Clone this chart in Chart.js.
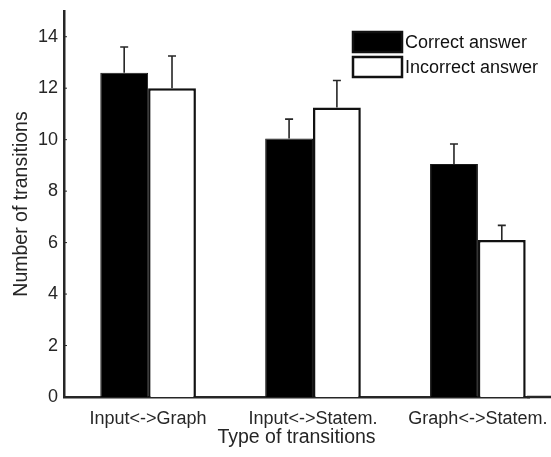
<!DOCTYPE html>
<html lang="en">
<head>
<meta charset="UTF-8" />
<title>Type of transitions</title>
<script src="https://cdn.jsdelivr.net/npm/chart.js@4"></script>
<style>
  html, body { margin: 0; padding: 0; background: #fff; overflow: hidden; }
  canvas { display: block; }
</style>
</head>
<body>
<canvas id="chart" width="551" height="457"></canvas>
<script>
const categories = ["Input<->Graph", "Input<->Statem.", "Graph<->Statem."];
const correct = [12.6, 10.05, 9.05];
const correctErr = [1.0, 0.75, 0.78];
const incorrect = [12.0, 11.25, 6.1];
const incorrectErr = [1.25, 1.05, 0.57];
const yTicks = [0, 2, 4, 6, 8, 10, 12, 14];
const seriesNames = ["Correct answer", "Incorrect answer"];

const FONT = "'Liberation Sans', Arial, sans-serif";
const INK = "#262626";

// upward-only error bars with a small cap, plus the axis stub and legend
const errorBars = {
  id: "errorBars",
  afterDatasetsDraw(chart) {
    const { ctx, scales: { y } } = chart;
    const errs = [correctErr, incorrectErr];
    const vals = [correct, incorrect];
    ctx.save();
    ctx.strokeStyle = INK;
    ctx.lineWidth = 1.6;
    chart.data.datasets.forEach((ds, di) => {
      chart.getDatasetMeta(di).data.forEach((bar, i) => {
        const top = y.getPixelForValue(vals[di][i] + errs[di][i]);
        ctx.beginPath();
        ctx.moveTo(bar.x, bar.y);
        ctx.lineTo(bar.x, top);
        ctx.moveTo(bar.x - 4, top);
        ctx.lineTo(bar.x + 4, top);
        ctx.stroke();
      });
    });
    ctx.restore();
  },
  afterDraw(chart) {
    const { ctx, scales: { y }, chartArea } = chart;
    ctx.save();
    // x axis runs on past the plot to the page edge
    ctx.strokeStyle = INK;
    ctx.lineWidth = 2.5;
    ctx.beginPath();
    ctx.moveTo(chartArea.right - 2, chartArea.bottom);
    ctx.lineTo(chart.width, chartArea.bottom);
    ctx.stroke();
    // inward y ticks
    ctx.lineWidth = 1;
    yTicks.forEach((v) => {
      const py = y.getPixelForValue(v);
      ctx.beginPath();
      ctx.moveTo(chartArea.left, py);
      ctx.lineTo(chartArea.left + 3, py);
      ctx.stroke();
    });
    // legend box in the upper right
    const x0 = 353, w = 49, h = 20;
    const rows = [32, 57];
    ctx.font = "18px " + FONT;
    ctx.textBaseline = "middle";
    chart.data.datasets.forEach((ds, i) => {
      ctx.fillStyle = ds.backgroundColor;
      ctx.fillRect(x0, rows[i], w, h);
      ctx.lineWidth = 2.5;
      ctx.strokeStyle = "#111";
      ctx.strokeRect(x0, rows[i], w, h);
      ctx.fillStyle = "#111";
      ctx.fillText(seriesNames[i], x0 + w + 3, rows[i] + h / 2 + 1);
    });
    ctx.restore();
  },
};

new Chart(document.getElementById("chart"), {
  type: "bar",
  data: {
    datasets: [
      {
        label: seriesNames[0],
        data: categories.map((c, i) => ({ x: i + 1, y: correct[i] })),
        backgroundColor: "#000",
        borderColor: "#1a1a1a",
        borderWidth: 1,
      },
      {
        label: seriesNames[1],
        data: categories.map((c, i) => ({ x: i + 1, y: incorrect[i] })),
        backgroundColor: "#fff",
        borderColor: "#111",
        borderWidth: 2.5,
      },
    ],
  },
  options: {
    responsive: false,
    animation: false,
    devicePixelRatio: 1,
    categoryPercentage: 0.58,
    barPercentage: 1,
    layout: { padding: { top: 11, left: 0, right: 22, bottom: 0 } },
    plugins: { legend: { display: false }, tooltip: { enabled: false } },
    scales: {
      x: {
        type: "linear",
        offset: false,
        min: 0.49,
        max: 3.31,
        afterBuildTicks: (s) => { s.ticks = categories.map((c, i) => ({ value: i + 1 })); },
        afterFit: (s) => { s.height = 60; s.paddingLeft = 0; s.paddingRight = 0; },
        grid: { display: false, drawTicks: false, offset: false },
        border: { display: true, color: INK, width: 2.5 },
        ticks: {
          autoSkip: false,
          maxRotation: 0,
          padding: 11,
          color: INK,
          font: { family: FONT, size: 18 },
          callback: (v) => categories[v - 1],
        },
        title: {
          display: true,
          text: "Type of transitions",
          color: INK,
          font: { family: FONT, size: 19.5 },
          padding: { top: 8, bottom: 8 },
        },
      },
      y: {
        min: 0,
        max: 15,
        afterBuildTicks: (s) => { s.ticks = yTicks.map((v) => ({ value: v })); },
        afterFit: (s) => { s.width = 64; s.paddingTop = 0; s.paddingBottom = 0; },
        grid: { display: false, drawTicks: false },
        border: { display: true, color: INK, width: 2.5 },
        ticks: {
          padding: 6,
          color: INK,
          font: { family: FONT, size: 18 },
        },
        title: {
          display: true,
          text: "Number of transitions",
          color: INK,
          font: { family: FONT, size: 19.5 },
          padding: { top: 10, bottom: 10 },
        },
      },
    },
  },
  plugins: [errorBars],
});
</script>
</body>
</html>
